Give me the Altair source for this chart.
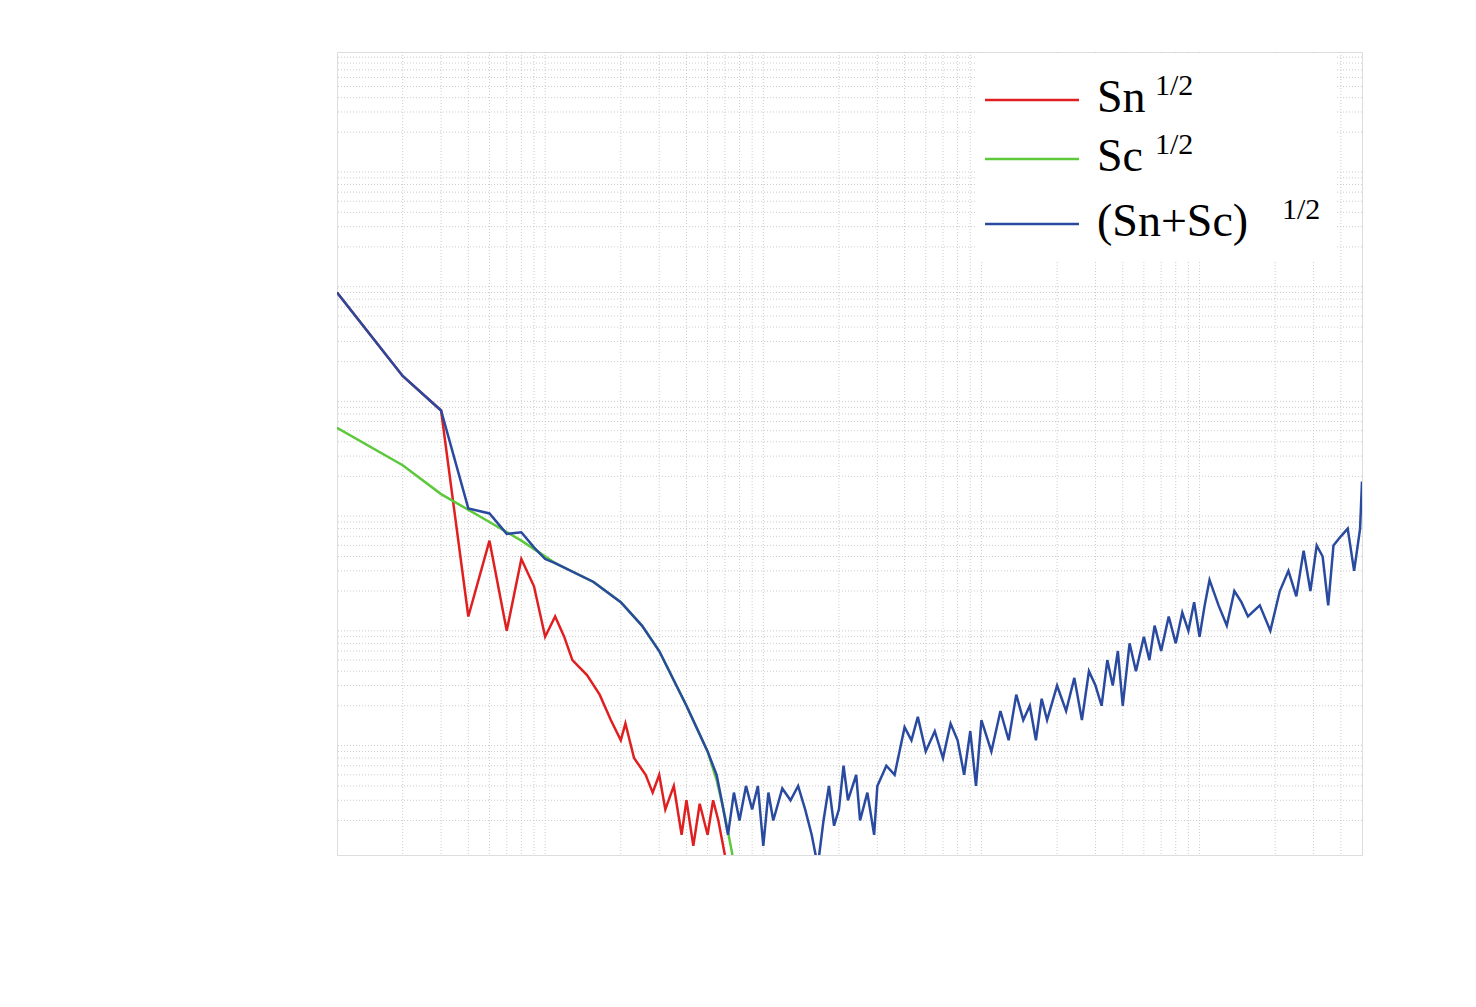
import altair as alt
import pandas as pd

# Sn^1/2 (red)
sn_f = [1e-4, 2e-4, 3e-4, 4e-4, 5e-4, 6e-4, 7e-4, 8e-4, 9e-4, 1e-3, 1.1e-3, 1.2e-3, 1.4e-3, 1.6e-3,
        1.8e-3, 2e-3, 2.1e-3, 2.3e-3, 2.6e-3, 2.8e-3, 3e-3, 3.2e-3, 3.5e-3, 3.8e-3, 4e-3, 4.3e-3,
        4.6e-3, 5e-3, 5.3e-3, 5.6e-3, 6e-3]
sn_v = [8e-17, 1.5e-17, 7.5e-18, 1.2e-19, 5.5e-19, 9e-20, 3.8e-19, 2.2e-19, 8e-20, 1.2e-19, 8e-20,
        5e-20, 3.7e-20, 2.5e-20, 1.5e-20, 1e-20, 1.4e-20, 7e-21, 5e-21, 3.5e-21, 5e-21, 2.5e-21,
        4e-21, 1.5e-21, 3e-21, 1.2e-21, 2.8e-21, 1.5e-21, 3e-21, 2e-21, 1e-21]

# Sc^1/2 (green)
sc_f = [1e-4, 2e-4, 3e-4, 5e-4, 7e-4, 1e-3, 1.5e-3, 2e-3, 2.5e-3, 3e-3, 4e-3, 5e-3, 5.5e-3, 6e-3, 6.5e-3]
sc_v = [5.3e-18, 2.5e-18, 1.4e-18, 8e-19, 5.5e-19, 3.5e-19, 2.4e-19, 1.6e-19, 1.0e-19, 6e-20,
        2e-20, 8e-21, 4.5e-21, 2.2e-21, 1e-21]

# (Sn+Sc)^1/2 (blue)
tot_f = [1e-4, 2e-4, 3e-4, 4e-4, 5e-4, 6e-4, 7e-4, 8e-4, 9e-4, 1e-3, 1.5e-3, 2e-3, 2.5e-3, 3e-3,
         4e-3, 5e-3, 5.5e-3,
         0.0058, 0.0062, 0.0066, 0.007, 0.0075, 0.008, 0.0085, 0.009, 0.0095, 0.01, 0.011, 0.012,
         0.013, 0.014, 0.015, 0.016, 0.017, 0.018, 0.019, 0.02, 0.021, 0.022, 0.024, 0.025, 0.027,
         0.029, 0.03, 0.033, 0.036, 0.04, 0.043, 0.046, 0.05, 0.055, 0.06, 0.065, 0.07, 0.075, 0.08,
         0.085, 0.09, 0.1, 0.11, 0.12, 0.13, 0.14, 0.15, 0.16, 0.17, 0.18, 0.2, 0.22, 0.24, 0.26,
         0.28, 0.3, 0.32, 0.34, 0.36, 0.38, 0.4, 0.43, 0.46, 0.5, 0.53, 0.56, 0.6, 0.65, 0.7, 0.75,
         0.8, 0.85, 0.9, 0.95, 1.0, 1.1, 1.2, 1.3, 1.4, 1.5, 1.7, 1.9, 2.1, 2.3, 2.5, 2.7, 2.9, 3.1,
         3.3, 3.5, 3.7, 4.0, 4.3, 4.6, 4.9, 5.0]
tot_v = [8e-17, 1.5e-17, 7.5e-18, 1.05e-18, 9.5e-19, 6.3e-19, 6.5e-19, 4.8e-19, 3.8e-19, 3.5e-19,
         2.4e-19, 1.6e-19, 1.0e-19, 6e-20, 2e-20, 8e-21, 5e-21,
         3e-21, 1.5e-21, 3.5e-21, 2e-21, 4e-21, 2.5e-21, 4e-21, 1.2e-21, 3.5e-21, 2e-21, 3.8e-21,
         3e-21, 4e-21, 2.5e-21, 1.5e-21, 8e-22, 2e-21, 4e-21, 1.8e-21, 2.5e-21, 6e-21, 3e-21, 5e-21,
         2e-21, 3.5e-21, 1.5e-21, 4e-21, 6e-21, 5e-21, 1.3e-20, 1e-20, 1.6e-20, 8e-21, 1.2e-20,
         7e-21, 1.4e-20, 1e-20, 5e-21, 1.2e-20, 4e-21, 1.5e-20, 8e-21, 1.8e-20, 1e-20, 2.5e-20,
         1.5e-20, 2e-20, 1e-20, 2.3e-20, 1.5e-20, 3e-20, 1.8e-20, 3.5e-20, 1.5e-20, 4e-20, 3e-20,
         2e-20, 5e-20, 3e-20, 6e-20, 2e-20, 7e-20, 4e-20, 8e-20, 5e-20, 1e-19, 6e-20, 1.2e-19,
         7e-20, 1.3e-19, 9e-20, 1.6e-19, 8e-20, 1.5e-19, 2.5e-19, 1.5e-19, 1e-19, 2e-19, 1.6e-19,
         1.2e-19, 1.5e-19, 9e-20, 2e-19, 3e-19, 1.8e-19, 4.5e-19, 2e-19, 5e-19, 4e-19, 1.5e-19,
         5e-19, 6e-19, 7e-19, 3e-19, 7e-19, 1.8e-18]

series = ['Sn', 'Sc', 'Sn+Sc']
colors = ['#e02020', '#5cc83c', '#2a4aa0']
legend_labels = ['Sn', 'Sc', '(Sn+Sc)']

df = pd.concat([
    pd.DataFrame({'f': sn_f, 'v': sn_v, 's': 'Sn'}),
    pd.DataFrame({'f': sc_f, 'v': sc_v, 's': 'Sc'}),
    pd.DataFrame({'f': tot_f, 'v': tot_v, 's': 'Sn+Sc'}),
])
df['order'] = range(len(df))

sup = {'0': '⁰', '1': '¹', '2': '²', '3': '³', '4': '⁴', '5': '⁵', '6': '⁶', '7': '⁷',
       '8': '⁸', '9': '⁹', '-': '⁻'}


def label_expr(exps, neg_zero=False):
    expr = "''"
    for e in exps:
        s = '-0' if (neg_zero and e == 0) else str(e)
        lab = '10' + ''.join(sup[c] for c in s)
        expr = f"abs(log(datum.value)/LN10 - ({e})) < 0.01 ? '{lab}' : " + expr
    return expr


FONT = 'Liberation Serif'
x_scale = alt.Scale(type='log', domain=[1e-4, 5])
y_scale = alt.Scale(type='log', domain=[1e-21, 1e-14])

# minor grid
minor_x = [m * 10.0 ** d for d in range(-4, 1) for m in range(2, 10) if m * 10.0 ** d < 5]
minor_y = [m * 10.0 ** d for d in range(-21, -14) for m in range(2, 10)]
grid_x = alt.Chart(pd.DataFrame({'x': minor_x})).mark_rule(
    color='#cccccc', strokeDash=[1, 2], strokeWidth=1).encode(x=alt.X('x:Q', scale=x_scale, axis=None))
grid_y = alt.Chart(pd.DataFrame({'y': minor_y})).mark_rule(
    color='#cccccc', strokeDash=[1, 2], strokeWidth=1).encode(y=alt.Y('y:Q', scale=y_scale, axis=None))

axis_style = dict(grid=True, gridColor='#b0b0b0', gridWidth=2, ticks=False,
                  labelFontSize=40, titleFontSize=40, labelPadding=10,
                  labelFont=FONT, titleFont=FONT, labelColor='black', titleColor='black',
                  titleFontWeight='normal', domain=False, labelFlush=False)

lines = alt.Chart(df).mark_line(strokeWidth=2.5, clip=True).encode(
    x=alt.X('f:Q', scale=x_scale, title='Freq/Hz',
            axis=alt.Axis(values=[1e-4, 1e-3, 1e-2, 1e-1, 1],
                          labelExpr=label_expr([-4, -3, -2, -1, 0], True),
                          titlePadding=8, **axis_style)),
    y=alt.Y('v:Q', scale=y_scale, title='ASD/(Hz¹ᐟ²)',
            axis=alt.Axis(values=[10.0 ** e for e in range(-21, -13)],
                          labelExpr=label_expr(list(range(-21, -13))),
                          titlePadding=18, **axis_style)),
    color=alt.Color('s:N', scale=alt.Scale(domain=series, range=colors), legend=None),
    detail='s:N',
    order='order:Q',
)

# legend drawn by hand
leg_box = alt.Chart(pd.DataFrame({'a': [0]})).mark_rect(fill='white').encode(
    x=alt.value(638), x2=alt.value(998), y=alt.value(3), y2=alt.value(210))
layers = [grid_x, grid_y, lines, leg_box]
row_y = [46, 105, 170]
sup_x = [818, 818, 945]
for lab, col, ry, sx in zip(legend_labels, colors, row_y, sup_x):
    one = pd.DataFrame({'lab': [lab]})
    layers.append(alt.Chart(one).mark_rule(strokeWidth=2.5, color=col).encode(
        x=alt.value(648), x2=alt.value(742), y=alt.value(ry + 2)))
    layers.append(alt.Chart(one).mark_text(align='left', baseline='middle', font=FONT, fontSize=46).encode(
        x=alt.value(760), y=alt.value(ry), text='lab:N'))
    layers.append(alt.Chart(one).mark_text(align='left', baseline='middle', font=FONT, fontSize=30,
                                           text='1/2').encode(x=alt.value(sx), y=alt.value(ry - 12)))

chart = alt.layer(*layers).properties(
    width=1025, height=803,
    padding={'left': 329, 'top': 44, 'right': 10, 'bottom': 10},
    autosize=alt.AutoSizeParams(type='none'),
).configure_view(stroke='black', strokeWidth=2.5).configure(background='white')

chart.save("out.html", embed_options={"renderer": "svg", "actions": False})
